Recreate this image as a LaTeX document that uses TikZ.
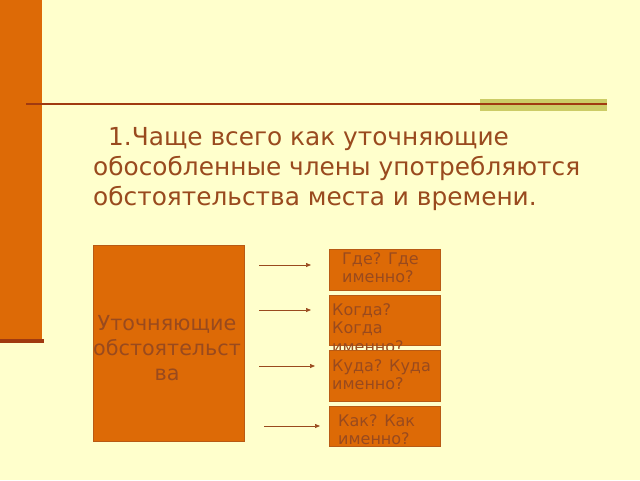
\documentclass[tikz,border=0pt]{standalone}
\usepackage{fontspec}
\setmainfont{DejaVu Sans}
\usetikzlibrary{arrows.meta}
\definecolor{bg}{HTML}{FFFFCC}
\definecolor{org}{HTML}{DD6A06}
\definecolor{orgline}{HTML}{B85A14}
\definecolor{txt}{HTML}{994A1E}
\definecolor{darkbar}{HTML}{A03A10}
\definecolor{olive}{HTML}{CCCC66}
\tikzset{
  obox/.style={draw=orgline, fill=org, line width=0.8pt},
  qtext/.style={text=txt, font=\fontsize{16}{18.5}\selectfont, align=left, anchor=north west, inner sep=0pt},
  arr/.style={draw=txt, line width=0.7pt, -{Triangle[length=5pt,width=4pt]}}
}
\begin{document}
\begin{tikzpicture}[x=1pt,y=-1pt]
\useasboundingbox (0,0) rectangle (640,480);
\fill[bg] (0,0) rectangle (640,480);
% left bar
\fill[org] (0,0) rectangle (42,340);
\fill[darkbar] (0,339) rectangle (44,343);
% olive and rule
\fill[olive] (480,99) rectangle (607,111);
\draw[darkbar, line width=1.5pt] (26,104) coordinate (r1) -- (607,104) coordinate (r2);
% title
\node[text=txt, font=\fontsize{24.8}{30}\selectfont, align=left, anchor=north west, inner sep=0pt] (title) at (93,127)
  {\hspace*{15pt}1.Чаще всего как уточняющие\\обособленные члены употребляются\\обстоятельства места и времени.};
% big box
\node[obox, minimum width=151pt, minimum height=196pt, anchor=north west, inner sep=0pt] (big) at (93,245) {};
\node[text=txt, font=\fontsize{20.7}{25}\selectfont, align=center, inner sep=0pt] (bigt) at (167,348) {Уточняющие\\обстоятельст\\ва};
% small boxes
\node[obox, minimum width=111pt, minimum height=41pt, anchor=north west, inner sep=0pt] (b1) at (329,249) {};
\node[qtext] (t1) at (342,252) {Где? Где\\именно?};
\node[obox, minimum width=111pt, minimum height=50pt, anchor=north west, inner sep=0pt] (b2) at (329,295) {};
\node[qtext] (t2) at (332,303) {Когда?\\Когда\\именно?};
\node[obox, minimum width=111pt, minimum height=51pt, anchor=north west, inner sep=0pt] (b3) at (329,350) {};
\node[qtext] (t3) at (332,359) {Куда? Куда\\именно?};
\node[obox, minimum width=111pt, minimum height=40pt, anchor=north west, inner sep=0pt] (b4) at (329,406) {};
\node[qtext] (t4) at (338,414) {Как? Как\\именно?};
% arrows
\coordinate (a1s) at (259,265); \coordinate (a1e) at (311,265);
\coordinate (a2s) at (259,310); \coordinate (a2e) at (311,310);
\coordinate (a3s) at (259,366); \coordinate (a3e) at (315,366);
\coordinate (a4s) at (264,426); \coordinate (a4e) at (320,426);
\draw[arr] (a1s) -- (a1e);
\draw[arr] (a2s) -- (a2e);
\draw[arr] (a3s) -- (a3e);
\draw[arr] (a4s) -- (a4e);
\end{tikzpicture}
\end{document}
